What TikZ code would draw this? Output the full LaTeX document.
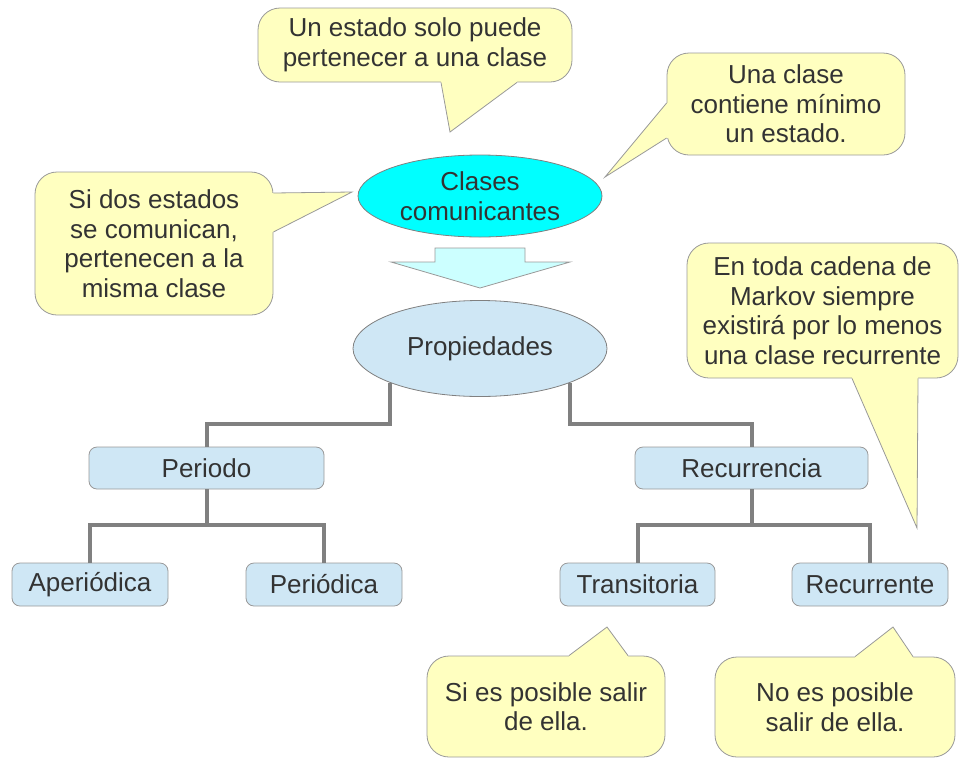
\documentclass[tikz,border=0pt]{standalone}
\usepackage{fontspec}
\setmainfont{Liberation Sans}
\usetikzlibrary{calc,shapes.geometric}
\definecolor{callfill}{HTML}{FFFFC0}
\definecolor{boxfill}{HTML}{CFE7F5}
\definecolor{cyanfill}{HTML}{00FFFF}
\definecolor{arrowfill}{HTML}{CCFFFF}
\definecolor{edgegray}{HTML}{808080}
\definecolor{linegray}{HTML}{999999}
\definecolor{txt}{HTML}{333333}
\begin{document}
\begin{tikzpicture}[x=1pt,y=-1pt,
  every node/.style={font=\fontsize{26}{29.5}\selectfont, text=txt, align=center, inner sep=0pt},
  callbox/.style={draw=linegray, line width=0.8pt, fill=callfill, rounded corners=22pt},
  tailline/.style={draw=linegray, line width=0.8pt, line join=miter},
  boxnode/.style={draw=linegray, line width=0.8pt, fill=boxfill, rounded corners=8pt, minimum height=42pt},
  ellnode/.style={ellipse, draw=edgegray, line width=0.8pt},
  conn/.style={draw=edgegray, line width=4pt},
]
\useasboundingbox (0,0) rectangle (960,758);

% ---- main nodes ----
\node[ellnode, fill=cyanfill, minimum width=244pt, minimum height=82pt] (clases) at (480,196) {Clases\\comunicantes};
\node[ellnode, fill=boxfill, minimum width=254pt, minimum height=96pt] (prop) at (480,348.5) {Propiedades};

\node[boxnode, minimum width=235pt] (periodo) at (206.5,468) {Periodo};
\node[boxnode, minimum width=233pt] (recur) at (751.5,468) {Recurrencia};
\node[boxnode, minimum width=156pt, minimum height=43pt] (aper) at (90,584.5) {Aperiódica};
\node[boxnode, minimum width=156pt, minimum height=43pt] (peri) at (324,584.5) {Periódica};
\node[boxnode, minimum width=155pt, minimum height=43pt] (trans) at (637.5,584.5) {Transitoria};
\node[boxnode, minimum width=156pt, minimum height=43pt] (recte) at (870,584.5) {Recurrente};

% ---- block arrow between the ellipses ----
\filldraw[fill=arrowfill, draw=linegray, line width=0.8pt]
  (435,248) -- (525,248) -- (525,262) -- (570,262) -- (480,288) -- (391,262) -- (435,262) -- cycle;

% ---- connectors ----
\draw[conn] (prop.south west) -- ++(0,41) -| (periodo.north);
\draw[conn] (prop.south east) -- ++(0,41) -| (recur.north);
\draw[conn] (periodo.south) -- ++(0,36) -| (aper.north);
\draw[conn] (periodo.south) -- ++(0,36) -| (peri.north);
\draw[conn] (recur.south) -- ++(0,36) -| (trans.north);
\draw[conn] (recur.south) -- ++(0,36) -| (recte.north);

% ---- callouts ----
\node[callbox, minimum width=314pt, minimum height=74pt] (c1) at (415,45) {Un estado solo puede\\pertenecer a una clase};
\coordinate (t1) at (450,132);
\fill[callfill] ($(c1.south)+(26,-2)$) -- ($(c1.south)+(26,0)$) -- (t1) -- ($(c1.south)+(102,0)$) -- ($(c1.south)+(102,-2)$) -- cycle;
\draw[tailline] ($(c1.south)+(26,0)$) -- (t1) -- ($(c1.south)+(102,0)$);

\node[callbox, minimum width=238pt, minimum height=102pt] (c2) at (786,104) {Una clase\\contiene mínimo\\un estado.};
\coordinate (t2) at (605,177);
\fill[callfill] ($(c2.west)+(2,-1)$) -- ($(c2.west)+(0,-1)$) -- (t2) -- ($(c2.west)+(0,34)$) -- ($(c2.west)+(2,34)$) -- cycle;
\draw[tailline] ($(c2.west)+(0,-1)$) -- (t2) -- ($(c2.west)+(0,34)$);

\node[callbox, minimum width=238pt, minimum height=143pt] (c3) at (154,243.5) {Si dos estados\\se comunican,\\pertenecen a la\\misma clase};
\coordinate (t3) at (352,192);
\fill[callfill] ($(c3.east)+(-2,-50.5)$) -- ($(c3.east)+(0,-50.5)$) -- (t3) -- ($(c3.east)+(0,-11.5)$) -- ($(c3.east)+(-2,-11.5)$) -- cycle;
\draw[tailline] ($(c3.east)+(0,-50.5)$) -- (t3) -- ($(c3.east)+(0,-11.5)$);

\node[callbox, minimum width=271pt, minimum height=135pt] (c4) at (822.5,310.5) {En toda cadena de\\Markov siempre\\existirá por lo menos\\una clase recurrente};
\coordinate (t4) at (917,528);
\fill[callfill] ($(c4.south)+(29.5,-2)$) -- ($(c4.south)+(29.5,0)$) -- (t4) -- ($(c4.south)+(95.5,0)$) -- ($(c4.south)+(95.5,-2)$) -- cycle;
\draw[tailline] ($(c4.south)+(29.5,0)$) -- (t4) -- ($(c4.south)+(95.5,0)$);

\node[callbox, minimum width=238pt, minimum height=101pt] (c5) at (546,706.5) {Si es posible salir\\de ella.};
\coordinate (t5) at (607,627);
\fill[callfill] ($(c5.north)+(23,2)$) -- ($(c5.north)+(23,0)$) -- (t5) -- ($(c5.north)+(82,0)$) -- ($(c5.north)+(82,2)$) -- cycle;
\draw[tailline] ($(c5.north)+(23,0)$) -- (t5) -- ($(c5.north)+(82,0)$);

\node[callbox, minimum width=240pt, minimum height=100pt] (c6) at (835,707) {No es posible\\salir de ella.};
\coordinate (t6) at (893,627);
\fill[callfill] ($(c6.north)+(20,2)$) -- ($(c6.north)+(20,0)$) -- (t6) -- ($(c6.north)+(78,0)$) -- ($(c6.north)+(78,2)$) -- cycle;
\draw[tailline] ($(c6.north)+(20,0)$) -- (t6) -- ($(c6.north)+(78,0)$);
\end{tikzpicture}
\end{document}
